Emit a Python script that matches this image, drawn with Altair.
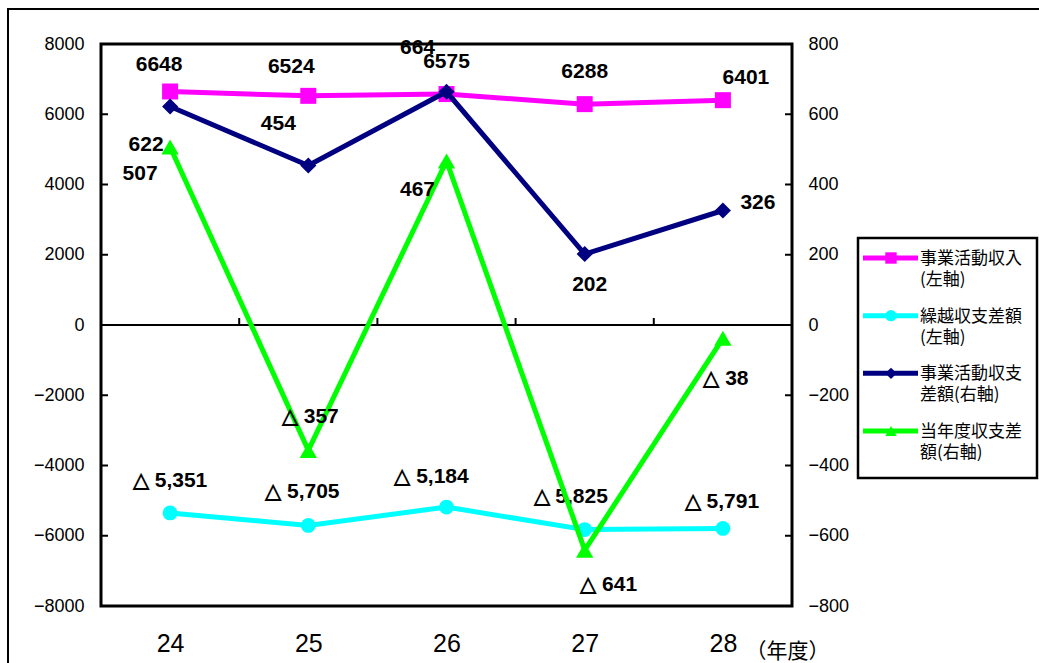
import altair as alt
import pandas as pd

# Fiscal years (Heisei) on the category axis
YEARS = [24, 25, 26, 27, 28]

# Left-axis series
INCOME = [6648, 6524, 6575, 6288, 6401]          # 事業活動収入
CARRY = [-5351, -5705, -5184, -5825, -5791]      # 繰越収支差額

# Right-axis series
BALANCE = [622, 454, 664, 202, 326]              # 事業活動収支差額
YEAR_BALANCE = [507, -357, 467, -641, -38]       # 当年度収支差額

LEFT_TICKS = [-8000, -6000, -4000, -2000, 0, 2000, 4000, 6000, 8000]
RIGHT_TICKS = [-800, -600, -400, -200, 0, 200, 400, 600, 800]

LEGEND_NAMES = ["income", "carry", "balance", "year_balance"]
LEGEND_LINE1 = ["事業活動収入", "繰越収支差額", "事業活動収支", "当年度収支差"]
LEGEND_LINE2 = ["(左軸)", "(左軸)", "差額(右軸)", "額(右軸)"]
COLORS = ["#ff00ff", "#00ffff", "#000080", "#00ff00"]
SHAPES = ["square", "circle", "diamond", "triangle-up"]

# label placement (dx, dy) around each point
INCOME_OFF = [(-11, -26), (-17, -29), (0, -32), (0, -32), (23, -22)]
CARRY_OFF = [(0, -32), (-6, -33), (-15, -30), (-14, -33), (-1, -26)]
BALANCE_OFF = [(-24, 38), (-30, -42), (-29, -44), (5, 31), (35, -7)]
YB_OFF = [(-30, 27), (2, -33), (-29, 29), (24, 35), (3, 41)]

W, H = 691, 562
NUM_FONT = "Liberation Sans"
JP_FONT = "Noto Sans CJK JP"


def tri_label(v, comma):
    s = f"{abs(v):,}" if comma else str(abs(v))
    return ("△ " + s) if v < 0 else s


X_AXIS = alt.Axis(values=YEARS, ticks=False, domain=False, grid=False, format="d",
                  labelFont=NUM_FONT, labelFontSize=25, labelPadding=25, labelColor="black",
                  title="（年度）", titleX=686, titleY=45, titleAlign="center",
                  titleBaseline="middle", titleFont=JP_FONT, titleFontSize=21,
                  titleFontWeight="normal", titleColor="black")
X_SCALE = alt.Scale(domain=[23.5, 28.5], nice=False, zero=False)

LEFT_AXIS = alt.Axis(orient="left", values=LEFT_TICKS, ticks=False, domain=False, grid=False,
                     format="d", labelFont=NUM_FONT, labelFontSize=18, labelPadding=17,
                     labelColor="black", title=None)
RIGHT_AXIS = alt.Axis(orient="right", values=RIGHT_TICKS, ticks=False, domain=False, grid=False,
                      format="d", labelFont=NUM_FONT, labelFontSize=18, labelPadding=16,
                      labelColor="black", title=None)
LEFT_SCALE = alt.Scale(domain=[-8000, 8000], nice=False, zero=False)
RIGHT_SCALE = alt.Scale(domain=[-800, 800], nice=False, zero=False)


def xenc():
    return alt.X("year:Q", scale=X_SCALE, axis=X_AXIS)


def yenc(side, field="value"):
    if side == "left":
        return alt.Y(f"{field}:Q", scale=LEFT_SCALE, axis=LEFT_AXIS)
    return alt.Y(f"{field}:Q", scale=RIGHT_SCALE, axis=RIGHT_AXIS)


def series_layers(values, color, shape, size, side):
    df = pd.DataFrame({"year": YEARS, "value": values})
    base = alt.Chart(df).encode(x=xenc(), y=yenc(side))
    line = base.mark_line(color=color, strokeWidth=5)
    pts = base.mark_point(shape=shape, filled=True, size=size, color=color, opacity=1)
    return [line, pts]


def label_layers(values, offsets, comma, side):
    out = []
    for yr, v, (dx, dy) in zip(YEARS, values, offsets):
        df = pd.DataFrame({"year": [yr], "value": [v], "label": [tri_label(v, comma)]})
        out.append(
            alt.Chart(df).mark_text(dx=dx, dy=dy, font=NUM_FONT, fontSize=21, fontWeight="bold",
                                    color="black", align="center", baseline="middle")
            .encode(x=xenc(), y=yenc(side), text="label:N")
        )
    return out


# zero line with category separators, and inward ticks on both value axes
zero_df = pd.DataFrame({"year": [23.5], "value": [0]})
zero_line = alt.Chart(zero_df).mark_rule(color="black", strokeWidth=2).encode(y=yenc("left"))
sep_df = pd.DataFrame({"year": [24.5, 25.5, 26.5, 27.5], "value": [0] * 4, "value2": [200] * 4})
separators = alt.Chart(sep_df).mark_rule(color="black", strokeWidth=2).encode(
    x=xenc(), y=yenc("left"), y2="value2:Q")
lt_df = pd.DataFrame({"value": LEFT_TICKS})
left_ticks = alt.Chart(lt_df).mark_rule(color="black", strokeWidth=2).encode(
    x=alt.value(0), x2=alt.value(7), y=yenc("left"))
rt_df = pd.DataFrame({"value": RIGHT_TICKS})
right_ticks = alt.Chart(rt_df).mark_rule(color="black", strokeWidth=2).encode(
    x=alt.value(W - 7), x2=alt.value(W), y=yenc("right"))

left_group = alt.layer(
    left_ticks, zero_line, separators,
    *series_layers(INCOME, COLORS[0], SHAPES[0], 256, "left"),
    *series_layers(CARRY, COLORS[1], SHAPES[1], 220, "left"),
    *label_layers(INCOME, INCOME_OFF, False, "left"),
    *label_layers(CARRY, CARRY_OFF, True, "left"),
)

right_group = alt.layer(
    right_ticks,
    *series_layers(BALANCE, COLORS[2], SHAPES[2], 260, "right"),
    *series_layers(YEAR_BALANCE, COLORS[3], SHAPES[3], 300, "right"),
    *label_layers(BALANCE, BALANCE_OFF, False, "right"),
    *label_layers(YEAR_BALANCE, YB_OFF, False, "right"),
)

# legend drawn as its own layer to the right of the plot
leg_df = pd.DataFrame({"name": LEGEND_NAMES, "line1": LEGEND_LINE1, "line2": LEGEND_LINE2})
leg_y = alt.Y("name:N", scale=alt.Scale(type="point", domain=LEGEND_NAMES, range=[214, 387],
                                        padding=0), axis=None)
leg_color = alt.Color("name:N", scale=alt.Scale(domain=LEGEND_NAMES, range=COLORS), legend=None)
leg_shape = alt.Shape("name:N", scale=alt.Scale(domain=LEGEND_NAMES, range=SHAPES), legend=None)
leg_base = alt.Chart(leg_df)
legend_box = alt.Chart(pd.DataFrame({"k": [0]})).mark_rect(
    fill="white", stroke="black", strokeWidth=2.5).encode(
    x=alt.value(757), x2=alt.value(936), y=alt.value(194), y2=alt.value(434))
leg_lines = leg_base.mark_rule(strokeWidth=5).encode(
    x=alt.value(762), x2=alt.value(817), y=leg_y, color=leg_color)
leg_marks = leg_base.mark_point(filled=True, size=130, opacity=1).encode(
    x=alt.value(790), y=leg_y, color=leg_color, shape=leg_shape)
leg_text1 = leg_base.mark_text(align="left", baseline="middle", font=JP_FONT, fontSize=17,
                               color="black", dy=1).encode(x=alt.value(819), y=leg_y, text="line1:N")
leg_text2 = leg_base.mark_text(align="left", baseline="middle", font=JP_FONT, fontSize=17,
                               color="black", dy=22).encode(x=alt.value(819), y=leg_y, text="line2:N")
legend_group = alt.layer(leg_lines, leg_marks, leg_text1, leg_text2)

outer_border = alt.Chart(pd.DataFrame({"k": [0]})).mark_rect(
    fillOpacity=0, stroke="black", strokeWidth=2).encode(
    x=alt.value(-93), x2=alt.value(1000), y=alt.value(-35), y2=alt.value(700))

chart = alt.layer(
    outer_border, left_group, right_group, legend_box, legend_group
).resolve_scale(
    y="independent"
).properties(
    width=W, height=H,
    padding={"left": 101, "top": 44, "right": 247, "bottom": 57},
    autosize=alt.AutoSizeParams(type="none"),
    background="white",
).configure_view(stroke="black", strokeWidth=3)

chart.save("out.html", embed_options={"renderer": "svg", "actions": False})
